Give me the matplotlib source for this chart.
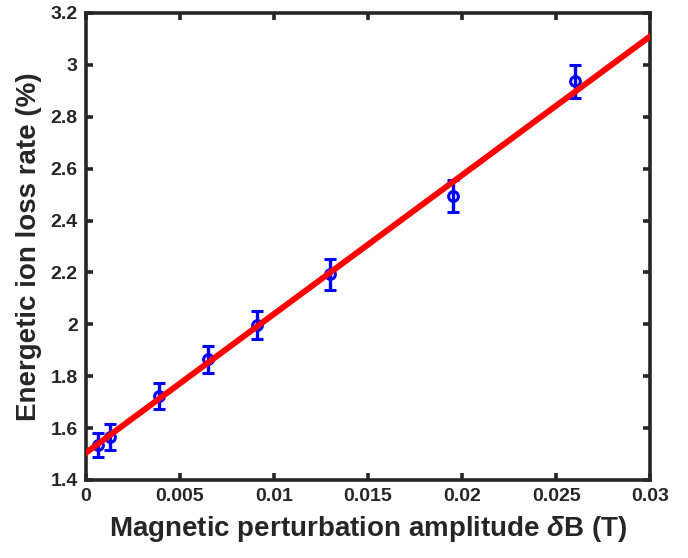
import numpy as np
import matplotlib
matplotlib.use('Agg')
import matplotlib.pyplot as plt
from matplotlib.ticker import FuncFormatter

plt.rcParams['font.family'] = ['Liberation Sans', 'DejaVu Sans']
plt.rcParams['font.weight'] = 'bold'
plt.rcParams['mathtext.fontset'] = 'custom'
plt.rcParams['mathtext.rm'] = 'Liberation Sans:bold'
plt.rcParams['mathtext.it'] = 'Liberation Sans:italic:bold'

# measured points (delta B in T, loss rate in %)
dB = [0.00065, 0.0013, 0.0039, 0.0065, 0.0091, 0.013, 0.0195, 0.026]
loss = [1.535, 1.567, 1.722, 1.865, 1.997, 2.192, 2.495, 2.937]
err = [0.045, 0.05, 0.05, 0.052, 0.055, 0.058, 0.062, 0.064]

# linear fit end points
fit_x = [0.0, 0.03]
fit_y = [1.505, 3.11]

fig = plt.figure(figsize=(6.88, 5.58), dpi=100)
ax = fig.add_axes([0.125, 0.1398, 0.82, 0.837])

ax.plot(fit_x, fit_y, color='red', lw=4.3, zorder=3)
ax.errorbar(dB, loss, yerr=err, fmt='o', color='blue', mfc='none', mec='blue',
            ms=7, mew=2.2, elinewidth=2.4, capsize=4.5, capthick=2.4, zorder=2)

ax.set_xlim(0, 0.03)
ax.set_ylim(1.4, 3.2)
ax.set_xticks(np.arange(0, 0.0301, 0.005))
ax.set_yticks(np.arange(1.4, 3.21, 0.2))
fmt = FuncFormatter(lambda v, p: '%g' % round(v, 4))
ax.xaxis.set_major_formatter(fmt)
ax.yaxis.set_major_formatter(fmt)

for s in ax.spines.values():
    s.set_linewidth(2.6)
    s.set_color('#262626')
ax.tick_params(direction='in', length=5, width=2.6, color='#262626',
               labelsize=14, labelcolor='#262626', top=True, right=True, pad=6)
for lab in ax.get_xticklabels() + ax.get_yticklabels():
    lab.set_fontweight('bold')

ax.set_xlabel(r'Magnetic perturbation amplitude $\delta$B (T)', fontsize=20,
              fontweight='bold', color='#262626', labelpad=6)
ax.set_ylabel('Energetic ion loss rate (%)', fontsize=20,
              fontweight='bold', color='#262626', labelpad=6)

fig.savefig('out.png', dpi=100)
